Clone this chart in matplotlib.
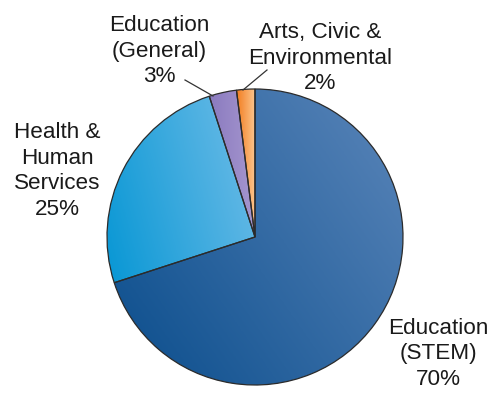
import numpy as np
import matplotlib.pyplot as plt
from matplotlib.colors import LinearSegmentedColormap

plt.rcParams['font.family'] = ['Liberation Sans', 'DejaVu Sans']

categories = ["Education\n(STEM)", "Health &\nHuman\nServices",
              "Education\n(General)", "Arts, Civic &\nEnvironmental"]
shares = [70, 25, 3, 2]

# two-stop gradient per slice, plus the direction of the shading
dark = ["#0a4d8c", "#0596d4", "#8a7abf", "#f27b1c"]
light = ["#5b86ba", "#70bde8", "#a697cf", "#fcc48c"]
grad_angle = [35, 15, 0, 0]

# where each label sits (pixels, origin bottom-left)
label_xy = [(438, 42), (57, 225), (159, 345), (320, 338)]
leader = {2: [(185, 316), (213, 300)], 3: [(267, 326), (243, 306)]}

W, H = 493, 396
fig = plt.figure(figsize=(W / 100, H / 100), dpi=100)
ax = fig.add_axes([0, 0, 1, 1])

wedges, _ = ax.pie(shares, startangle=90, counterclock=False,
                   center=(255, 159), radius=148,
                   wedgeprops=dict(edgecolor='#2b2b2b', linewidth=0.9))


def shade(wedge, c0, c1, angle):
    path = wedge.get_patch_transform().transform_path(wedge.get_path())
    x0, y0 = path.vertices.min(axis=0)
    x1, y1 = path.vertices.max(axis=0)
    xs, ys = np.meshgrid(np.linspace(x0, x1, 200), np.linspace(y0, y1, 200))
    a = np.radians(angle)
    t = xs * np.cos(a) + ys * np.sin(a)
    t = (t - t.min()) / (t.max() - t.min())
    cmap = LinearSegmentedColormap.from_list('g', [c0, c1])
    im = ax.imshow(t, cmap=cmap, extent=(x0, x1, y0, y1), origin='lower',
                   interpolation='bilinear', zorder=wedge.get_zorder())
    im.set_clip_path(wedge)
    wedge.set_facecolor('none')
    wedge.set_zorder(wedge.get_zorder() + 1)


for i, w in enumerate(wedges):
    shade(w, dark[i], light[i], grad_angle[i])

for i, (name, pct) in enumerate(zip(categories, shares)):
    x, y = label_xy[i]
    ax.text(x, y, f"{name}\n{pct}%", ha='center', va='center',
            multialignment='center', fontsize=16.2, color='#1a1a1a',
            linespacing=1.3)

for pts in leader.values():
    (xa, ya), (xb, yb) = pts
    ax.plot([xa, xb], [ya, yb], color='#333333', lw=0.9)

ax.set_xlim(0, W)
ax.set_ylim(0, H)
ax.axis('off')
fig.savefig('out.png', dpi=100)
